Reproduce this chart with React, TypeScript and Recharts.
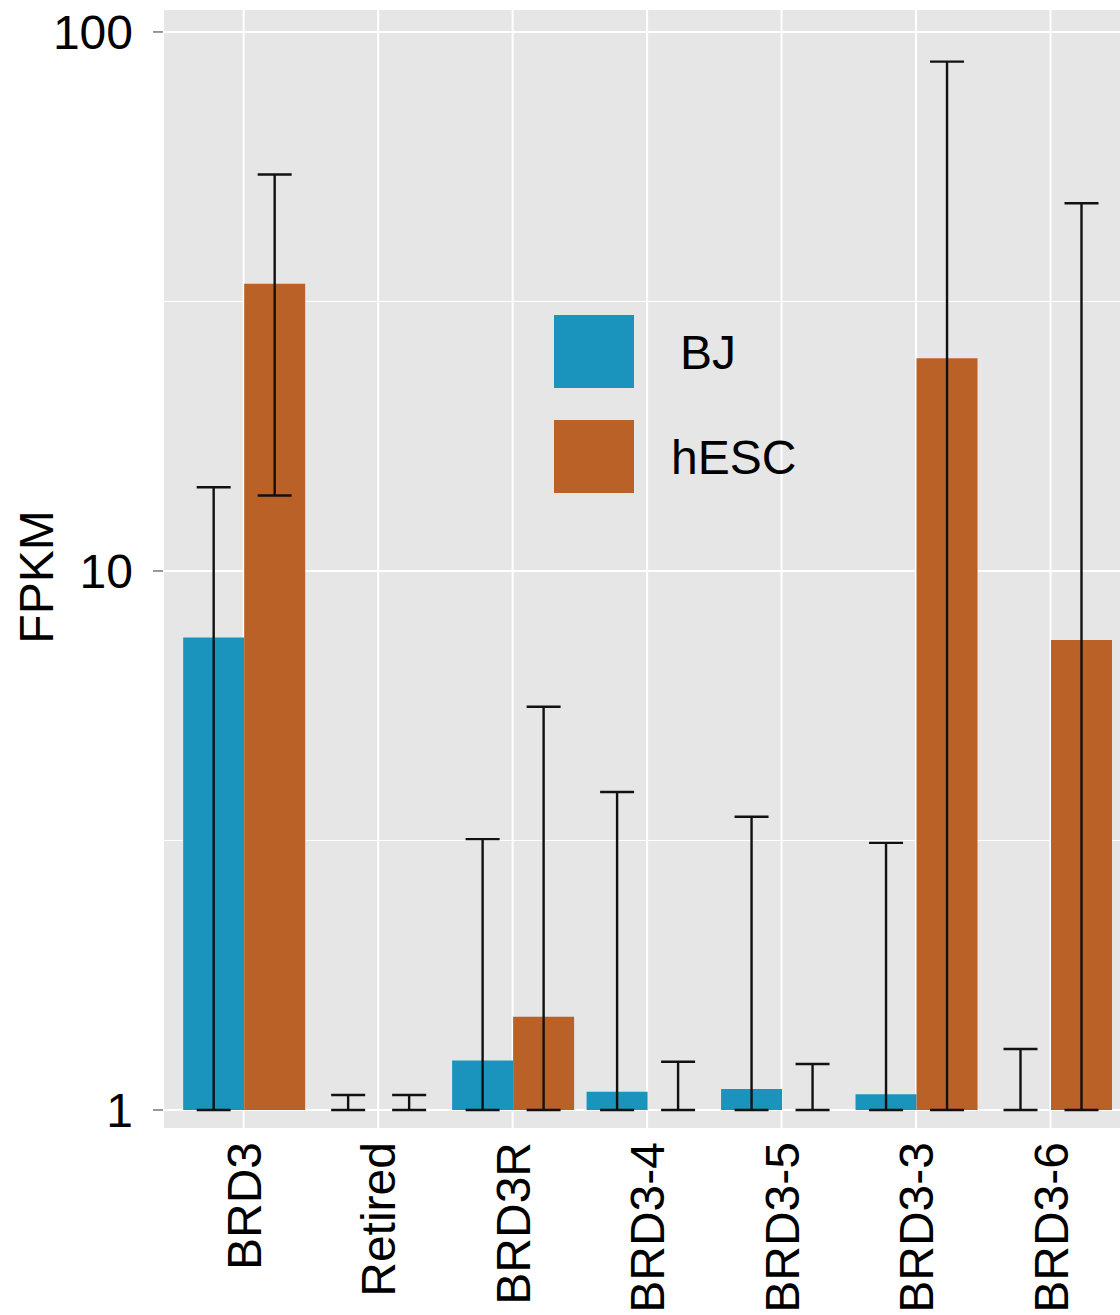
import React from "react";
import { BarChart, Bar, XAxis, YAxis, CartesianGrid, Legend } from "recharts";

const categories = ["BRD3", "Retired", "BRD3R", "BRD3-4", "BRD3-5", "BRD3-3", "BRD3-6"];
const bjFpkm = [7.53, 1.0, 1.235, 1.081, 1.094, 1.069, 1.0];
const hescFpkm = [34.1, 1.0, 1.49, 1.0, 1.0, 24.8, 7.45];
const bjErrLow = [1, 1, 1, 1, 1, 1, 1];
const bjErrHigh = [14.3, 1.066, 3.18, 3.89, 3.5, 3.13, 1.298];
const hescErrLow = [13.8, 1, 1, 1, 1, 1, 1];
const hescErrHigh = [54.4, 1.066, 5.6, 1.229, 1.217, 88.1, 48.1];
const yTicks = [1, 10, 100];
const yMinorTicks = [3.162, 31.62];

const BJ_COLOR = "#1A94BD";
const HESC_COLOR = "#BA6128";
const FONT = '"Liberation Sans", Arial, Helvetica, sans-serif';

const data = categories.map((name, i) => ({
  name,
  bj: [1, bjFpkm[i]],
  hesc: [1, hescFpkm[i]],
  bjErr: [bjErrLow[i], bjErrHigh[i]],
  hescErr: [hescErrLow[i], hescErrHigh[i]],
}));

// draws an errorbar inside the range the bar got from the y scale
function Whisker(props: any) {
  const { x, y, width, height } = props;
  if (x == null || y == null || isNaN(y)) return null;
  const cx = x + width / 2;
  const top = Math.min(y, y + height);
  const bottom = Math.max(y, y + height);
  return (
    <g stroke="#111" strokeWidth={2.4}>
      <line x1={cx} x2={cx} y1={top} y2={bottom} />
      <line x1={cx - 17} x2={cx + 17} y1={top} y2={top} />
      <line x1={cx - 17} x2={cx + 17} y1={bottom} y2={bottom} />
    </g>
  );
}

function XTick(props: any) {
  const { x, y, payload } = props;
  return (
    <text
      transform={`translate(${x},${y - 31}) rotate(-90)`}
      textAnchor="end"
      dy="0.36em"
      fontSize={48}
      fill="#000"
    >
      {payload.value}
    </text>
  );
}

function YTitle(props: any) {
  const vb = props.viewBox || { y: 9, height: 1120 };
  const cy = vb.y + vb.height / 2 + 8;
  return (
    <text x={53} y={cy} transform={`rotate(-90, 53, ${cy})`} textAnchor="middle" fontSize={48} fill="#000">
      FPKM
    </text>
  );
}

const legendTextX = [680, 671];

function LegendBox(props: any) {
  const items = (props.payload || []).filter((p: any) => p.type !== "none");
  return (
    <svg
      width={1120}
      height={1315}
      style={{ position: "absolute", left: 0, top: 0, pointerEvents: "none", overflow: "visible" }}
    >
      {items.map((p: any, i: number) => {
        const top = 315 + i * 105;
        return (
          <g key={p.value}>
            <rect x={554} y={top} width={80} height={73} fill={p.color} />
            <text x={legendTextX[i]} y={top + 36.5} dy="0.36em" fontSize={48} fill="#000">
              {p.value}
            </text>
          </g>
        );
      })}
    </svg>
  );
}

export default function App() {
  return (
    <div
      style={{
        position: "absolute",
        left: 0,
        top: 0,
        width: 1120,
        height: 1315,
        overflow: "hidden",
        background: "#fff",
        fontFamily: FONT,
      }}
    >
      <BarChart
        width={1160}
        height={1315}
        data={data}
        margin={{ top: 9, right: 28.8, bottom: 0, left: 0 }}
        barCategoryGap="5%"
        barGap={0}
      >
        <CartesianGrid xAxisId="main" fill="#E5E6E5" stroke="#fff" strokeWidth={2} />
        <CartesianGrid xAxisId="main" yAxisId="minor" vertical={false} stroke="#fff" strokeWidth={1} />
        <XAxis
          xAxisId="main"
          dataKey="name"
          interval={0}
          padding={{ left: 13.45, right: 13.45 }}
          height={186}
          axisLine={false}
          tickLine={false}
          tickSize={0}
          tickMargin={14}
          tick={<XTick />}
        />
        <XAxis xAxisId="err" dataKey="name" hide padding={{ left: 13.45, right: 13.45 }} />
        <YAxis
          scale="log"
          domain={[0.922, 110.3]}
          allowDataOverflow
          ticks={yTicks}
          width={163}
          axisLine={false}
          tickSize={10}
          tickMargin={20}
          tickLine={{ stroke: "#777", strokeWidth: 1.5 }}
          tick={{ fill: "#000", fontSize: 48 }}
          label={(p: any) => <YTitle {...p} />}
        />
        <YAxis
          yAxisId="minor"
          scale="log"
          domain={[0.922, 110.3]}
          allowDataOverflow
          ticks={yMinorTicks}
          hide
        />
        <Legend content={<LegendBox />} wrapperStyle={{ left: 0, top: 0, width: 0, height: 0 }} />
        <Bar xAxisId="main" dataKey="bj" name="BJ" fill={BJ_COLOR} isAnimationActive={false} />
        <Bar xAxisId="main" dataKey="hesc" name="hESC" fill={HESC_COLOR} isAnimationActive={false} />
        <Bar
          xAxisId="err"
          dataKey="bjErr"
          legendType="none"
          shape={<Whisker />}
          isAnimationActive={false}
        />
        <Bar
          xAxisId="err"
          dataKey="hescErr"
          legendType="none"
          shape={<Whisker />}
          isAnimationActive={false}
        />
      </BarChart>
    </div>
  );
}
